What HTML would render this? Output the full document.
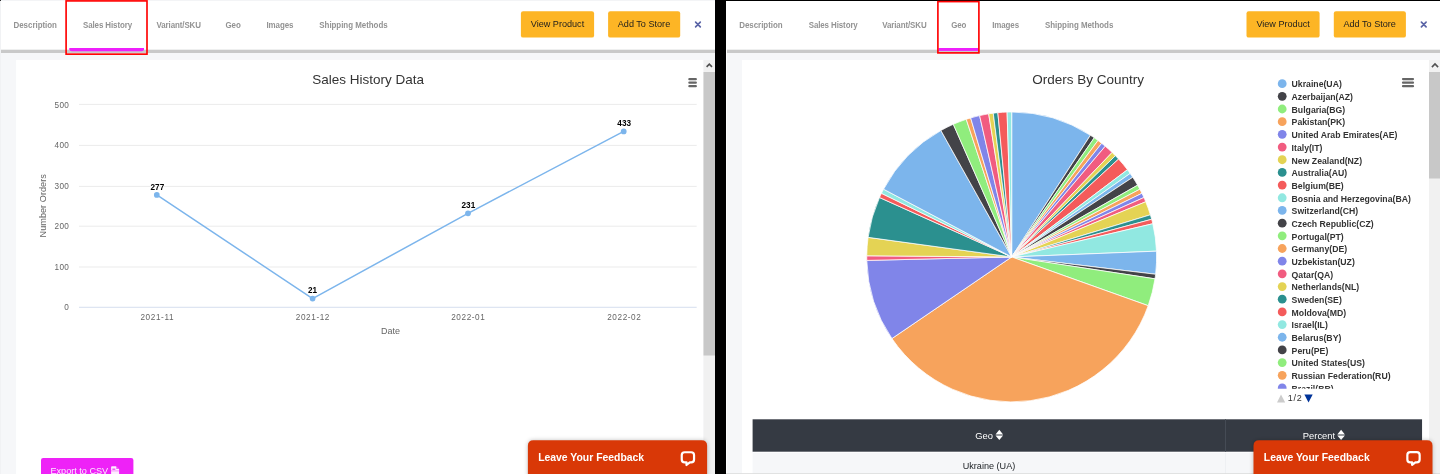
<!DOCTYPE html>
<html lang="en">
<head>
<meta charset="utf-8">
<title>Product details</title>
<style>
*{box-sizing:border-box;margin:0;padding:0}
html,body{width:1440px;height:474px;overflow:hidden;background:#000;font-family:"Liberation Sans",sans-serif}
.panel{will-change:transform;position:absolute;top:0;height:474px;background:#f6f7f9;overflow:hidden}
#p1{left:0;width:715px}
#p2{left:726px;width:714px}
.panel>svg{position:absolute;left:0;top:0}
.tab{position:absolute;top:19.95px;height:12px;line-height:12px;font-size:7.95px;font-weight:bold;color:#939393;letter-spacing:-.1px;white-space:nowrap;transform:scaleY(1.1);transform-origin:0 70%}
.btn{position:absolute;top:11px;height:27px;color:#1d1d1d;font-size:9.1px;line-height:27.8px;text-align:center;white-space:nowrap}
.fbt{position:absolute;top:440px;height:36px;color:#fff;font-weight:bold;font-size:10.4px;line-height:36.3px;white-space:nowrap;transform:translateY(.4px)}
.th{position:absolute;top:429.5px;height:12px;line-height:12px;font-size:9.4px;color:#fff;text-align:center;white-space:nowrap}
.td{position:absolute;top:459.8px;height:12px;line-height:12px;font-size:9.1px;color:#212529;text-align:center;white-space:nowrap}
.exp{position:absolute;left:50.5px;top:458.2px;height:27px;line-height:27px;color:#fdeaff;font-size:9.1px;white-space:nowrap}
svg text{font-family:"Liberation Sans",sans-serif}
</style>
</head>
<body>

<!-- ================= LEFT PANEL : Sales History ================= -->
<div class="panel" id="p1">
  <svg width="715" height="474" viewBox="0 0 715 474">
    <!-- page chrome -->
    <rect x="0" y="0" width="715" height="1" fill="#f3f4f6"/>
    <rect x="0" y="1" width="715" height="48.9" fill="#fff"/>
    <rect x="0" y="0" width="1" height="474" fill="#f1f2f4"/>
    <rect x="0" y="0" width="1" height="1" fill="#333"/>
    <rect x="1" y="49.7" width="714" height="3.3" fill="#c9c9c9"/>
    <rect x="16.1" y="59.9" width="687.4" height="415" fill="#fff"/>
    <!-- scrollbar -->
    <rect x="703.5" y="60" width="11.5" height="414" fill="#f1f1f1"/>
    <rect x="703.5" y="72" width="11.5" height="283.5" fill="#c8c8c8"/>
    <path d="M706.6 66.9L709.3 64.2L712 66.9" stroke="#505050" stroke-width="1.6" fill="none"/>
    <!-- header buttons / active-tab marker -->
    <rect x="520.9" y="11.2" width="73.2" height="26.4" rx="2.2" fill="#fdb525"/>
    <rect x="608.1" y="11.2" width="72.1" height="26.4" rx="2.2" fill="#fdb525"/>
    <path d="M69.3 47.9H144V49.2Q144 51.3 141.6 51.3H71.8Q69.3 51.3 69.3 49.2Z" fill="#ee1ffb"/>
    <rect x="66.1" y="0.9" width="80.9" height="53.25" fill="none" stroke="#f00" stroke-width="1.65"/>
    <path d="M695.6 22.2 L700.3 26.9 M700.3 22.2 L695.6 26.9" stroke="#5a64a6" stroke-width="1.65" stroke-linecap="round" fill="none"/>

    <!-- line chart -->
    <g stroke="#e6e6e6" stroke-width="0.8" fill="none">
      <path d="M79 104.4H696.7"/><path d="M79 145.4H696.7"/><path d="M79 186.4H696.7"/><path d="M79 226.2H696.7"/><path d="M79 267H696.7"/>
    </g>
    <path d="M79 307.3H696.7" stroke="#ccd6eb" stroke-width="0.8" fill="none"/>
    <text x="368.2" y="84.3" text-anchor="middle" font-size="13.5" fill="#333">Sales History Data</text>
    <g font-size="8.2" fill="#666" text-anchor="end" letter-spacing="0.25">
      <text x="69" y="108.1">500</text><text x="69" y="148.3">400</text><text x="69" y="188.8">300</text><text x="69" y="229.2">200</text><text x="69" y="269.8">100</text><text x="69" y="310.3">0</text>
    </g>
    <g font-size="8.2" fill="#666" text-anchor="middle" letter-spacing="0.6">
      <text x="157.3" y="319.9">2021-11</text><text x="312.9" y="319.9">2021-12</text><text x="468.3" y="319.9">2022-01</text><text x="624.3" y="319.9">2022-02</text>
    </g>
    <text x="390.5" y="334" text-anchor="middle" font-size="9" fill="#666">Date</text>
    <text transform="translate(46 205.8) rotate(-90)" text-anchor="middle" font-size="9.1" fill="#666" letter-spacing="0.05">Number Orders</text>
    <path d="M156.8 194.9 L312.6 298.6 L468 213.3 L623.7 131.4" stroke="#7cb5ec" stroke-width="1.5" fill="none" stroke-linejoin="round"/>
    <g fill="#7cb5ec"><circle cx="156.8" cy="194.9" r="2.85"/><circle cx="312.6" cy="298.6" r="2.85"/><circle cx="468" cy="213.3" r="2.85"/><circle cx="623.7" cy="131.4" r="2.85"/></g>
    <g font-size="8.2" font-weight="bold" fill="#000" text-anchor="middle" stroke="#fff" stroke-width="1.6" paint-order="stroke" stroke-linejoin="round">
      <text x="157.4" y="189.8">277</text><text x="312.6" y="293.4">21</text><text x="468.4" y="208.2">231</text><text x="624.2" y="126.2">433</text>
    </g>
    <g stroke="#666" stroke-width="2.3" stroke-linecap="round" fill="none"><path d="M689.4 79.2H695.8M689.4 82.7H695.8M689.4 86.2H695.8"/></g>

    <!-- export button -->
    <rect x="41" y="457.9" width="92.4" height="30" rx="2.2" fill="#ee22f7"/>
    <g transform="translate(111.1 466.3)"><path d="M0.9 0H4.8L8 3V9H0V0.9Q0 0 0.9 0Z" fill="#fff" fill-opacity=".92"/><path d="M1.3 2.2H4.2V3.6H1.3ZM5.2 0.3V2.8H7.6" fill="#ee22f7" fill-opacity=".75"/><path d="M0 4.6H8" stroke="#ee22f7" stroke-opacity=".45" stroke-width="1"/></g>
  </svg>

  <div class="tab" style="left:13.5px;letter-spacing:-.02px">Description</div>
  <div class="tab" style="left:83px">Sales History</div>
  <div class="tab" style="left:156.5px">Variant/SKU</div>
  <div class="tab" style="left:225.5px">Geo</div>
  <div class="tab" style="left:266.5px">Images</div>
  <div class="tab" style="left:319.3px;letter-spacing:-.03px">Shipping Methods</div>
  <div class="btn" style="left:521px;width:73px">View Product</div>
  <div class="btn" style="left:608px;width:72px">Add To Store</div>
  <div class="exp">Export to CSV</div>

  <svg width="715" height="474" viewBox="0 0 715 474">
    <defs><filter id="sh1" x="-10%" y="-30%" width="120%" height="160%"><feGaussianBlur stdDeviation="2.2"/></filter></defs>
    <path d="M527.9 480V445.7Q527.9 440.2 533.4 440.2H701.6Q707.1 440.2 707.1 445.7V480Z" fill="#000" fill-opacity=".25" filter="url(#sh1)"/>
    <path d="M527.9 480V445.7Q527.9 440.2 533.4 440.2H701.6Q707.1 440.2 707.1 445.7V480Z" fill="#d93807"/>
    <g transform="translate(680 450)"><path d="M4.6 2.25H11.2Q14.05 2.25 14.05 5.1V9.6Q14.05 12.45 11.2 12.45H9.8L6.5 15V12.45H4.6Q1.75 12.45 1.75 9.6V5.1Q1.75 2.25 4.6 2.25Z" fill="none" stroke="#fff" stroke-width="2.2" stroke-linejoin="round"/></g>
  </svg>
  <div class="fbt" style="left:538.2px">Leave Your Feedback</div>
</div>

<!-- ================= RIGHT PANEL : Geo ================= -->
<div class="panel" id="p2">
  <svg width="714" height="474" viewBox="0 0 714 474">
    <rect x="0" y="0" width="714" height="49.9" fill="#fff"/>
    <rect x="0" y="0" width="714" height="1" fill="#000"/>
    <rect x="0" y="49.7" width="714" height="3.3" fill="#c9c9c9"/>
    <rect x="0" y="1" width="1" height="473" fill="#fff"/>
    <rect x="16" y="60" width="687" height="415" fill="#fff"/>
    <!-- scrollbar -->
    <rect x="703" y="60" width="11" height="414" fill="#f1f1f1"/>
    <rect x="703" y="72" width="11" height="106.5" fill="#c8c8c8"/>
    <path d="M705.9 67.1L709 64L712.1 67.1" stroke="#505050" stroke-width="1.6" fill="none"/>
    <!-- header buttons / active-tab marker -->
    <rect x="520.5" y="11.2" width="73.1" height="26.4" rx="2.2" fill="#fdb525"/>
    <rect x="607.8" y="11.2" width="72.1" height="26.4" rx="2.2" fill="#fdb525"/>
    <rect x="212.5" y="48" width="39.8" height="2.9" fill="#ee1ffb"/>
    <rect x="211.9" y="1.6" width="41" height="51.3" fill="none" stroke="#f00" stroke-width="1.65"/>
    <path d="M695.4 22.2 L700.1 26.9 M700.1 22.2 L695.4 26.9" stroke="#5a64a6" stroke-width="1.65" stroke-linecap="round" fill="none"/>

    <!-- pie chart -->
    <text x="362.2" y="84" text-anchor="middle" font-size="13.5" fill="#333">Orders By Country</text>
    <g stroke="#fff" stroke-width="0.75" stroke-linejoin="round">
<path fill="#7cb5ec" d="M285.7 256.95L285.70 112.00A144.95 144.95 0 0 1 364.42 135.24Z"/>
<path fill="#434348" d="M285.7 256.95L364.42 135.24A144.95 144.95 0 0 1 368.26 137.81Z"/>
<path fill="#90ed7d" d="M285.7 256.95L368.26 137.81A144.95 144.95 0 0 1 372.02 140.50Z"/>
<path fill="#f7a35c" d="M285.7 256.95L372.02 140.50A144.95 144.95 0 0 1 375.69 143.32Z"/>
<path fill="#8085e9" d="M285.7 256.95L375.69 143.32A144.95 144.95 0 0 1 379.26 146.24Z"/>
<path fill="#f15c80" d="M285.7 256.95L379.26 146.24A144.95 144.95 0 0 1 386.13 152.43Z"/>
<path fill="#e4d354" d="M285.7 256.95L386.13 152.43A144.95 144.95 0 0 1 389.41 155.69Z"/>
<path fill="#2b908f" d="M285.7 256.95L389.41 155.69A144.95 144.95 0 0 1 392.59 159.05Z"/>
<path fill="#f45b5b" d="M285.7 256.95L392.59 159.05A144.95 144.95 0 0 1 401.45 169.71Z"/>
<path fill="#91e8e1" d="M285.7 256.95L401.45 169.71A144.95 144.95 0 0 1 404.18 173.44Z"/>
<path fill="#7cb5ec" d="M285.7 256.95L404.18 173.44A144.95 144.95 0 0 1 406.78 177.26Z"/>
<path fill="#434348" d="M285.7 256.95L406.78 177.26A144.95 144.95 0 0 1 411.61 185.14Z"/>
<path fill="#90ed7d" d="M285.7 256.95L411.61 185.14A144.95 144.95 0 0 1 413.84 189.20Z"/>
<path fill="#f7a35c" d="M285.7 256.95L413.84 189.20A144.95 144.95 0 0 1 415.94 193.32Z"/>
<path fill="#8085e9" d="M285.7 256.95L415.94 193.32A144.95 144.95 0 0 1 417.90 197.50Z"/>
<path fill="#f15c80" d="M285.7 256.95L417.90 197.50A144.95 144.95 0 0 1 419.73 201.75Z"/>
<path fill="#e4d354" d="M285.7 256.95L419.73 201.75A144.95 144.95 0 0 1 424.39 214.80Z"/>
<path fill="#2b908f" d="M285.7 256.95L424.39 214.80A144.95 144.95 0 0 1 425.66 219.25Z"/>
<path fill="#f45b5b" d="M285.7 256.95L425.66 219.25A144.95 144.95 0 0 1 426.79 223.73Z"/>
<path fill="#91e8e1" d="M285.7 256.95L426.79 223.73A144.95 144.95 0 0 1 430.53 251.17Z"/>
<path fill="#7cb5ec" d="M285.7 256.95L430.53 251.17A144.95 144.95 0 0 1 429.61 274.25Z"/>
<path fill="#434348" d="M285.7 256.95L429.61 274.25A144.95 144.95 0 0 1 428.99 278.83Z"/>
<path fill="#90ed7d" d="M285.7 256.95L428.99 278.83A144.95 144.95 0 0 1 422.21 305.68Z"/>
<path fill="#f7a35c" d="M285.7 256.95L422.21 305.68A144.95 144.95 0 0 1 165.91 338.56Z"/>
<path fill="#8085e9" d="M285.7 256.95L165.91 338.56A144.95 144.95 0 0 1 140.79 260.42Z"/>
<path fill="#f15c80" d="M285.7 256.95L140.79 260.42A144.95 144.95 0 0 1 140.75 255.79Z"/>
<path fill="#e4d354" d="M285.7 256.95L140.75 255.79A144.95 144.95 0 0 1 142.08 237.36Z"/>
<path fill="#2b908f" d="M285.7 256.95L142.08 237.36A144.95 144.95 0 0 1 153.50 197.50Z"/>
<path fill="#f45b5b" d="M285.7 256.95L153.50 197.50A144.95 144.95 0 0 1 155.46 193.32Z"/>
<path fill="#91e8e1" d="M285.7 256.95L155.46 193.32A144.95 144.95 0 0 1 157.56 189.20Z"/>
<path fill="#7cb5ec" d="M285.7 256.95L157.56 189.20A144.95 144.95 0 0 1 214.90 130.47Z"/>
<path fill="#434348" d="M285.7 256.95L214.90 130.47A144.95 144.95 0 0 1 227.31 124.28Z"/>
<path fill="#90ed7d" d="M285.7 256.95L227.31 124.28A144.95 144.95 0 0 1 240.25 119.31Z"/>
<path fill="#f7a35c" d="M285.7 256.95L240.25 119.31A144.95 144.95 0 0 1 244.66 117.93Z"/>
<path fill="#8085e9" d="M285.7 256.95L244.66 117.93A144.95 144.95 0 0 1 253.61 115.60Z"/>
<path fill="#f15c80" d="M285.7 256.95L253.61 115.60A144.95 144.95 0 0 1 262.68 113.84Z"/>
<path fill="#e4d354" d="M285.7 256.95L262.68 113.84A144.95 144.95 0 0 1 267.26 113.18Z"/>
<path fill="#2b908f" d="M285.7 256.95L267.26 113.18A144.95 144.95 0 0 1 271.85 112.66Z"/>
<path fill="#f45b5b" d="M285.7 256.95L271.85 112.66A144.95 144.95 0 0 1 281.08 112.07Z"/>
<path fill="#91e8e1" d="M285.7 256.95L281.08 112.07A144.95 144.95 0 0 1 285.70 112.00Z"/>
    </g>
    <defs><clipPath id="lc"><rect x="540" y="70" width="160" height="318.8"/></clipPath></defs>
    <g clip-path="url(#lc)" font-size="8.7" font-weight="bold" fill="#333">
<circle cx="556.2" cy="83.65" r="4.4" fill="#7cb5ec"/><text x="565.6" y="87.45">Ukraine(UA)</text>
<circle cx="556.2" cy="96.33" r="4.4" fill="#434348"/><text x="565.6" y="100.13">Azerbaijan(AZ)</text>
<circle cx="556.2" cy="109.01" r="4.4" fill="#90ed7d"/><text x="565.6" y="112.81">Bulgaria(BG)</text>
<circle cx="556.2" cy="121.69" r="4.4" fill="#f7a35c"/><text x="565.6" y="125.49">Pakistan(PK)</text>
<circle cx="556.2" cy="134.37" r="4.4" fill="#8085e9"/><text x="565.6" y="138.17">United Arab Emirates(AE)</text>
<circle cx="556.2" cy="147.05" r="4.4" fill="#f15c80"/><text x="565.6" y="150.85">Italy(IT)</text>
<circle cx="556.2" cy="159.73" r="4.4" fill="#e4d354"/><text x="565.6" y="163.53">New Zealand(NZ)</text>
<circle cx="556.2" cy="172.41" r="4.4" fill="#2b908f"/><text x="565.6" y="176.21">Australia(AU)</text>
<circle cx="556.2" cy="185.09" r="4.4" fill="#f45b5b"/><text x="565.6" y="188.89">Belgium(BE)</text>
<circle cx="556.2" cy="197.77" r="4.4" fill="#91e8e1"/><text x="565.6" y="201.57">Bosnia and Herzegovina(BA)</text>
<circle cx="556.2" cy="210.45" r="4.4" fill="#7cb5ec"/><text x="565.6" y="214.25">Switzerland(CH)</text>
<circle cx="556.2" cy="223.13" r="4.4" fill="#434348"/><text x="565.6" y="226.93">Czech Republic(CZ)</text>
<circle cx="556.2" cy="235.81" r="4.4" fill="#90ed7d"/><text x="565.6" y="239.61">Portugal(PT)</text>
<circle cx="556.2" cy="248.49" r="4.4" fill="#f7a35c"/><text x="565.6" y="252.29">Germany(DE)</text>
<circle cx="556.2" cy="261.17" r="4.4" fill="#8085e9"/><text x="565.6" y="264.97">Uzbekistan(UZ)</text>
<circle cx="556.2" cy="273.85" r="4.4" fill="#f15c80"/><text x="565.6" y="277.65">Qatar(QA)</text>
<circle cx="556.2" cy="286.53" r="4.4" fill="#e4d354"/><text x="565.6" y="290.33">Netherlands(NL)</text>
<circle cx="556.2" cy="299.21" r="4.4" fill="#2b908f"/><text x="565.6" y="303.01">Sweden(SE)</text>
<circle cx="556.2" cy="311.89" r="4.4" fill="#f45b5b"/><text x="565.6" y="315.69">Moldova(MD)</text>
<circle cx="556.2" cy="324.57" r="4.4" fill="#91e8e1"/><text x="565.6" y="328.37">Israel(IL)</text>
<circle cx="556.2" cy="337.25" r="4.4" fill="#7cb5ec"/><text x="565.6" y="341.05">Belarus(BY)</text>
<circle cx="556.2" cy="349.93" r="4.4" fill="#434348"/><text x="565.6" y="353.73">Peru(PE)</text>
<circle cx="556.2" cy="362.61" r="4.4" fill="#90ed7d"/><text x="565.6" y="366.41">United States(US)</text>
<circle cx="556.2" cy="375.29" r="4.4" fill="#f7a35c"/><text x="565.6" y="379.09">Russian Federation(RU)</text>
<circle cx="556.2" cy="387.97" r="4.4" fill="#8085e9"/><text x="565.6" y="391.77">Brazil(BR)</text>
    </g>
    <path d="M551 402.5L555 394.4L559.2 402.5Z" fill="#ccc"/>
    <text x="561.8" y="401" font-size="9" fill="#333" letter-spacing="0.7">1/2</text>
    <path d="M578.4 394.4H586.7L582.5 402.4Z" fill="#039"/>
    <g stroke="#666" stroke-width="2.2" stroke-linecap="round" fill="none"><path d="M677 79.1H687M677 82.7H687M677 86.2H687"/></g>

    <!-- table -->
    <rect x="26.6" y="451" width="669.45" height="23" fill="#f6f7f9"/>
    <rect x="499" y="453" width="1" height="21" fill="#eef0f3"/>
    <rect x="26.6" y="451" width="669.45" height="2" fill="#fdfdfe"/>
    <rect x="26.6" y="419.3" width="669.45" height="32.4" fill="#353a43"/>
    <rect x="499" y="419.3" width="1" height="32.4" fill="#454b55"/>
    <g fill="#fff"><path d="M273.3 429.8L277.1 434.4H269.5ZM273.3 440L269.5 435.5H277.1Z"/><path d="M615.1 429.8L618.9 434.4H611.3ZM615.1 440L611.3 435.5H618.9Z"/></g>
    <rect x="0" y="473.2" width="714" height="1" fill="#dcdcdc"/>
  </svg>

  <div class="tab" style="left:13.2px;letter-spacing:-.02px">Description</div>
  <div class="tab" style="left:82.7px">Sales History</div>
  <div class="tab" style="left:156.2px">Variant/SKU</div>
  <div class="tab" style="left:225.2px">Geo</div>
  <div class="tab" style="left:266.2px">Images</div>
  <div class="tab" style="left:319px;letter-spacing:-.03px">Shipping Methods</div>
  <div class="btn" style="left:520.6px;width:73px">View Product</div>
  <div class="btn" style="left:607.7px;width:72px">Add To Store</div>
  <div class="th" style="left:243.2px;width:30px">Geo</div>
  <div class="th" style="left:563px;width:60px">Percent</div>
  <div class="td" style="left:213px;width:100px">Ukraine (UA)</div>

  <svg width="714" height="474" viewBox="0 0 714 474">
    <defs><filter id="sh2" x="-10%" y="-30%" width="120%" height="160%"><feGaussianBlur stdDeviation="2.2"/></filter></defs>
    <path d="M527.5 480V445.8Q527.5 440.3 533 440.3H701Q706.5 440.3 706.5 445.8V480Z" fill="#000" fill-opacity=".25" filter="url(#sh2)"/>
    <path d="M527.5 480V445.8Q527.5 440.3 533 440.3H701Q706.5 440.3 706.5 445.8V480Z" fill="#d93807"/>
    <g transform="translate(679.6 449.9)"><path d="M4.6 2.25H11.2Q14.05 2.25 14.05 5.1V9.6Q14.05 12.45 11.2 12.45H9.8L6.5 15V12.45H4.6Q1.75 12.45 1.75 9.6V5.1Q1.75 2.25 4.6 2.25Z" fill="none" stroke="#fff" stroke-width="2.2" stroke-linejoin="round"/></g>
  </svg>
  <div class="fbt" style="left:537.8px">Leave Your Feedback</div>
</div>
</body>
</html>
